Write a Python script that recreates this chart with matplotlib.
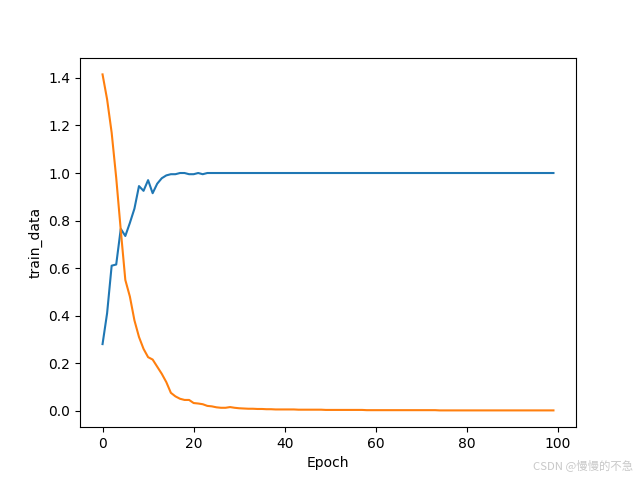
import matplotlib
matplotlib.use("Agg")
import matplotlib.pyplot as plt
import numpy as np

# values
acc_head = [0.28, 0.41, 0.61, 0.615, 0.765, 0.735, 0.79, 0.85, 0.945, 0.925,
            0.97, 0.915, 0.955, 0.978, 0.99, 0.995, 0.995, 1.0, 1.0, 0.995,
            0.995, 1.0, 0.995, 1.0]
acc_tail = [1.0] * (100 - len(acc_head))
train_acc = acc_head + acc_tail

loss_head = [1.415, 1.31, 1.17, 0.98, 0.76, 0.55, 0.48, 0.38, 0.31, 0.26,
             0.225, 0.215, 0.185, 0.155, 0.12, 0.075, 0.06, 0.05, 0.045, 0.045,
             0.032, 0.03, 0.027, 0.02, 0.018, 0.014, 0.012, 0.012, 0.015, 0.012,
             0.01, 0.009, 0.008, 0.008, 0.007, 0.007, 0.006, 0.006, 0.005, 0.005]
loss_tail = [0.005, 0.005, 0.005, 0.004, 0.004, 0.004, 0.004, 0.004, 0.004, 0.003,
             0.003, 0.003, 0.003, 0.003, 0.003, 0.003, 0.003, 0.003, 0.002, 0.002,
             0.002, 0.002, 0.002, 0.002, 0.002, 0.002, 0.002, 0.002, 0.002, 0.002,
             0.002, 0.002, 0.002, 0.002, 0.001, 0.001, 0.001, 0.001, 0.001, 0.001,
             0.001, 0.001, 0.001, 0.001, 0.001, 0.001, 0.001, 0.001, 0.001, 0.001,
             0.001, 0.001, 0.001, 0.001, 0.001, 0.001, 0.001, 0.001, 0.001, 0.001]
train_loss = loss_head + loss_tail
epochs = np.arange(len(train_acc))

fig, ax = plt.subplots(figsize=(6.4, 4.8), dpi=100)
ax.plot(epochs, train_acc)
ax.plot(epochs, train_loss)
ax.set_xlabel("Epoch")
ax.set_ylabel("train_data")
fig.text(0.99, 0.018, "CSDN @慢慢的不急", ha="right", va="bottom", fontsize=8.2,
         color="#c8c8c8", family=["Noto Sans CJK SC", "DejaVu Sans"])
fig.savefig("out.png")
